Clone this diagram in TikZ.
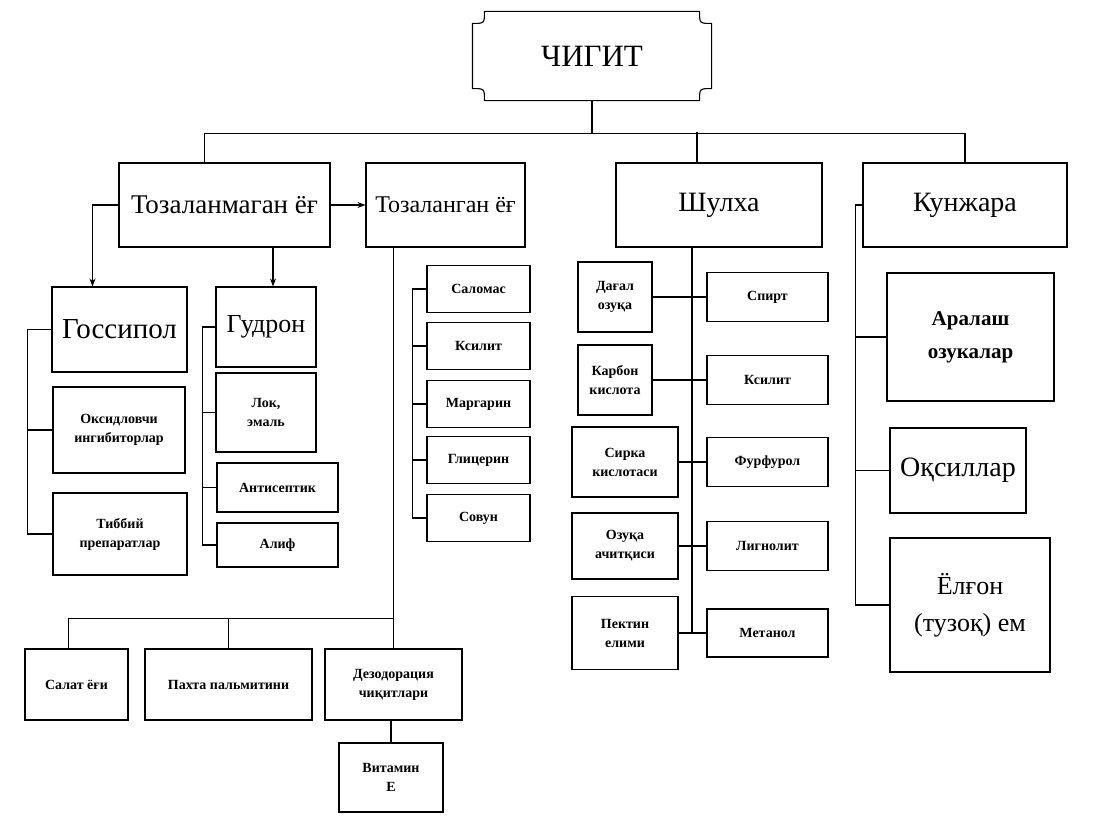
\documentclass[tikz,border=0pt]{standalone}
\usepackage{fontspec}
\setmainfont{Liberation Serif}
\usetikzlibrary{arrows.meta, calc}

\begin{document}
\begin{tikzpicture}[
  x=1pt, y=-1pt, line width=1.1pt,
  box/.style={rectangle, draw, inner sep=2pt, align=center,
              font=\fontsize{24}{28}\selectfont},
  leaf/.style={box, font=\bfseries\fontsize{14}{19}\selectfont},
  arr/.style={-{Stealth[length=8pt,width=6pt]}},
]
\useasboundingbox (0,0) rectangle (1097,816);

% root with scooped corners
\node[minimum width=238pt, minimum height=88pt, font=\fontsize{31}{34}\selectfont] (seed) at (592,56) {ЧИГИТ};
\draw ($(seed.north west)+(0,12)$) .. controls ($(seed.north west)+(12,12)$) .. ($(seed.north west)+(12,0)$)
  -- ($(seed.north east)+(-12,0)$) .. controls ($(seed.north east)+(-12,12)$) .. ($(seed.north east)+(0,12)$)
  -- ($(seed.south east)+(0,-12)$) .. controls ($(seed.south east)+(-12,-12)$) .. ($(seed.south east)+(-12,0)$)
  -- ($(seed.south west)+(12,0)$) .. controls ($(seed.south west)+(12,-12)$) .. ($(seed.south west)+(0,-12)$)
  -- cycle;

% first level
\node[box, minimum width=211pt, minimum height=84pt, font=\fontsize{27}{30}\selectfont] (raw) at (224.5,205) {Тозаланмаган ёғ};
\node[box, minimum width=159pt, minimum height=84pt] (clean) at (445.5,205) {Тозаланган ёғ};
\node[box, minimum width=206pt, minimum height=84pt, font=\fontsize{28}{30}\selectfont] (husk) at (719,205) {Шулха};
\node[box, minimum width=204pt, minimum height=84pt, font=\fontsize{28}{30}\selectfont] (meal) at (965,205) {Кунжара};

% unrefined oil
\node[box, minimum width=135pt, minimum height=85pt, font=\fontsize{29}{31}\selectfont] (goss) at (119.5,329.5) {Госсипол};
\node[leaf, minimum width=132pt, minimum height=86pt] (inhib) at (119,430) {Оксидловчи\\ингибиторлар};
\node[leaf, minimum width=134pt, minimum height=82pt] (pharm) at (120,534) {Тиббий\\препаратлар};
\node[box, minimum width=100pt, minimum height=80pt, font=\fontsize{26}{28}\selectfont] (tar) at (266,327) {Гудрон};
\node[leaf, minimum width=100pt, minimum height=79pt] (lac) at (266,412.5) {Лок,\\эмаль};
\node[leaf, minimum width=121pt, minimum height=49pt] (antis) at (277.5,487.5) {Антисептик};
\node[leaf, minimum width=121pt, minimum height=44pt] (olif) at (277.5,545) {Алиф};

% refined oil
\node[leaf, minimum width=103pt, minimum height=47pt] (salomas) at (478.5,289) {Саломас};
\node[leaf, minimum width=103pt, minimum height=47pt] (xyl) at (478.5,346) {Ксилит};
\node[leaf, minimum width=103pt, minimum height=47pt] (marg) at (478.5,404) {Маргарин};
\node[leaf, minimum width=103pt, minimum height=47pt] (glyc) at (478.5,460) {Глицерин};
\node[leaf, minimum width=103pt, minimum height=47pt] (soap) at (478.5,518) {Совун};
\node[leaf, minimum width=103pt, minimum height=71pt] (salad) at (76.5,684.5) {Салат ёғи};
\node[leaf, minimum width=167pt, minimum height=71pt] (palm) at (228.5,684.5) {Пахта пальмитини};
\node[leaf, minimum width=137pt, minimum height=71pt] (deo) at (393.5,684.5) {Дезодорация\\чиқитлари};
\node[leaf, minimum width=104pt, minimum height=69pt] (vit) at (391,777.5) {Витамин\\Е};

% husk
\node[leaf, minimum width=74pt, minimum height=70pt] (coarse) at (615,297) {Дағал\\озуқа};
\node[leaf, minimum width=74pt, minimum height=70pt] (carb) at (615,380) {Карбон\\кислота};
\node[leaf, minimum width=106pt, minimum height=70pt] (acet) at (625,462) {Сирка\\кислотаси};
\node[leaf, minimum width=106pt, minimum height=66pt] (yeast) at (625,546) {Озуқа\\ачитқиси};
\node[leaf, minimum width=106pt, minimum height=73pt] (pect) at (625,633) {Пектин\\елими};
\node[leaf, minimum width=121pt, minimum height=49pt] (spirit) at (767.5,297) {Спирт};
\node[leaf, minimum width=121pt, minimum height=49pt] (xyl2) at (767.5,380) {Ксилит};
\node[leaf, minimum width=121pt, minimum height=49pt] (furf) at (767.5,462) {Фурфурол};
\node[leaf, minimum width=121pt, minimum height=49pt] (lign) at (767.5,546) {Лигнолит};
\node[leaf, minimum width=121pt, minimum height=48pt] (meth) at (767.5,633) {Метанол};

% meal
\node[box, minimum width=167pt, minimum height=128pt, font=\bfseries\fontsize{21}{33}\selectfont] (mixed) at (970.5,337) {Аралаш\\озукалар};
\node[box, minimum width=136pt, minimum height=85pt, font=\fontsize{28}{30}\selectfont] (protein) at (958,470.5) {Оқсиллар};
\node[box, minimum width=160pt, minimum height=134pt, font=\fontsize{26}{37}\selectfont] (oilcake) at (970,605) {Ёлғон\\(тузоқ) ем};

% trunk
\draw (seed.south) -- ++(0,33) coordinate (trunk);
\draw ([xshift=-20pt]raw.north) |- (trunk) -| (meal.north);
\draw ([xshift=-22pt]husk.north) -- ++(0,-30);

% unrefined oil links
\draw[arr] (raw) -- (clean);
\draw[arr] (raw.west) -| ([xshift=-27pt]goss.north);
\draw[arr] ([xshift=7pt]tar.north) ++(0,-40) -- ++(0,40);
\foreach \n in {inhib,pharm} \draw (goss.west) -- ++(-24,0) |- (\n.west);
\foreach \n in {lac,antis,olif} \draw (tar.west) -- ++(-13,0) |- (\n.west);

% refined oil links
\foreach \n in {xyl,marg,glyc,soap} \draw (salomas.west) -- ++(-14,0) |- (\n.west);
\draw (clean.south -| deo.north) -- (deo.north);
\draw ([xshift=-8pt]salad.north) |- ([yshift=30pt]deo.north);
\draw (palm.north) -- ++(0,-30);
\draw (vit.north |- deo.south) -- (vit.north);

% husk links
\coordinate (huskfoot) at ([xshift=-27pt]husk.south);
\draw (huskfoot) -- (huskfoot |- meth.west);
\foreach \a/\b in {coarse/spirit, carb/xyl2, acet/furf, yeast/lign, pect/meth}
  \draw (\a.east) -- (\b.west);

% meal links
\foreach \n in {mixed,protein,oilcake} \draw (meal.west) -- ++(-7,0) |- (\n.west);
\end{tikzpicture}
\end{document}
